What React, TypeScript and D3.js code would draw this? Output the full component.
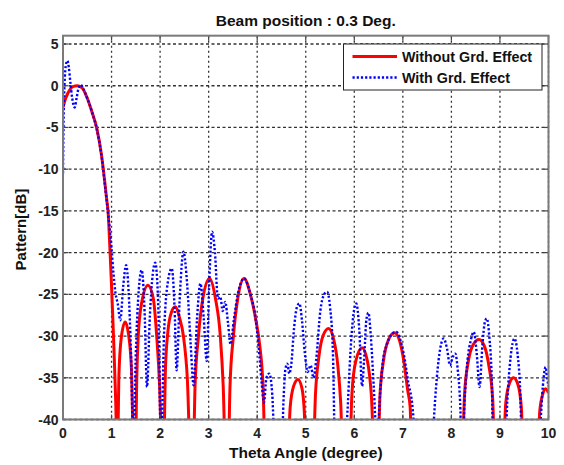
import React from "react";
import * as d3 from "d3";

const xTicks = [0, 1, 2, 3, 4, 5, 6, 7, 8, 9, 10];
const yTicks = [-40, -35, -30, -25, -20, -15, -10, -5, 0, 5];

const redX = [
  0, 0.05, 0.1, 0.15, 0.2, 0.3, 0.4, 0.5, 0.6, 0.7, 0.8, 0.85, 0.9, 0.93, 0.97, 1.0, 1.02, 1.04, 1.07, 1.1, 1.115,
  1.125, 1.15, 1.2, 1.28, 1.35, 1.41, 1.46,
  1.49, 1.52, 1.55, 1.62, 1.75, 1.86, 1.93, 1.99, 2.04,
  2.07, 2.11, 2.16, 2.23, 2.31, 2.4, 2.48, 2.56, 2.63,
  2.68, 2.72, 2.79, 2.88, 3.02, 3.14, 3.24, 3.3, 3.35,
  3.4, 3.44, 3.51, 3.6, 3.73, 3.86, 3.97, 4.05, 4.12, 4.17,
  4.62, 4.68, 4.75, 4.84, 4.92, 4.97, 5.01,
  5.15, 5.2, 5.27, 5.36, 5.47, 5.58, 5.66, 5.72, 5.77,
  5.9, 5.95, 6.03, 6.16, 6.27, 6.35, 6.42,
  6.48, 6.53, 6.6, 6.7, 6.83, 6.93, 7.02, 7.1, 7.15, 7.19,
  8.22, 8.27, 8.35, 8.45, 8.57, 8.68, 8.77, 8.85, 8.9,
  9.06, 9.12, 9.2, 9.28, 9.37, 9.44, 9.49,
  9.77, 9.82, 9.88, 9.94, 10,
];
const redY = [
  -2.6, -1.6, -0.9, -0.4, -0.1, 0, -0.3, -1.5, -3.2, -5.2, -8.6, -11, -13.6, -15.2, -20, -24, -27, -30, -35, -42, -50,
  -45, -35, -30.2, -28.3, -29.8, -34, -45,
  -45, -35, -30, -26, -23.9, -25.5, -30, -36, -45,
  -45, -34, -29.5, -27.2, -26.5, -27.8, -30, -35, -45,
  -45, -36, -30, -25.5, -23.1, -25.5, -30, -36, -45,
  -45, -36, -30, -25.5, -23.1, -25, -28, -31, -36, -45,
  -45, -38.5, -36, -35.2, -36.2, -39, -45,
  -45, -37, -32.5, -29.9, -29.1, -30.5, -33.5, -38, -45,
  -45, -37, -33, -31.4, -33, -37, -45,
  -45, -37, -33, -30.5, -29.6, -30.5, -33, -36.5, -38.5, -45,
  -45, -37, -33, -31, -30.4, -31.2, -33.5, -37.5, -45,
  -45, -38, -35.6, -35, -35.8, -38.5, -45,
  -45, -39, -37, -36.3, -36.8,
];

const blueX = [
  0, 0.01, 0.03, 0.06, 0.09, 0.12, 0.15, 0.19, 0.24, 0.28, 0.32, 0.37, 0.42, 0.5, 0.6, 0.7, 0.8, 0.85, 0.9, 0.95,
  1.0, 1.04, 1.08, 1.13, 1.18, 1.24, 1.3, 1.35, 1.4, 1.45, 1.5, 1.56, 1.62, 1.68, 1.73, 1.79, 1.85, 1.9, 1.96,
  2.02, 2.08, 2.16, 2.24, 2.3, 2.34, 2.4, 2.48, 2.56, 2.63, 2.69, 2.76, 2.83, 2.9, 2.96,
  3.01, 3.07, 3.13, 3.19, 3.24, 3.29, 3.34, 3.4, 3.45, 3.52, 3.6, 3.73, 3.86, 3.97,
  4.03, 4.09, 4.14, 4.19, 4.25, 4.31, 4.36, 4.5, 4.54, 4.58, 4.62, 4.66, 4.7, 4.76, 4.82, 4.87, 4.92, 4.98,
  5.04, 5.1, 5.16, 5.22, 5.3, 5.38, 5.44, 5.5, 5.56, 5.61, 5.78, 5.85, 5.92, 5.98,
  6.04, 6.1, 6.16, 6.2, 6.25, 6.29, 6.34, 6.4, 6.47, 6.53, 6.59, 6.67, 6.77, 6.87, 6.95,
  7.03, 7.11, 7.19, 7.25, 7.3, 7.6, 7.64, 7.7, 7.77, 7.84, 7.91, 7.97,
  8.03, 8.08, 8.13, 8.18, 8.22, 8.27, 8.33, 8.4, 8.46, 8.52, 8.58, 8.64, 8.69, 8.73, 8.78, 8.83, 8.87,
  9.1, 9.15, 9.22, 9.3, 9.36, 9.42, 9.46, 9.8, 9.84, 9.9, 9.94, 9.97, 10,
];
const blueY = [
  -10.5, -5, 0, 2.5, 3.0, 2.2, 0.5, -1.5, -2.6, -1.5, -0.3, 0.1, -0.4, -1.5, -3.2, -5.3, -8.7, -11.2, -13.8, -16.5,
  -19.5, -22.5, -24.8, -26.2, -28.1, -24, -21.5, -24.5, -32, -43, -32, -24.5, -22.1, -27, -36.1, -27.5, -22.5, -21.2, -26,
  -43, -30, -23.5, -21.9, -27, -34.1, -26, -19.9, -24, -31, -35.9, -28, -23.7, -28, -33,
  -24, -17.5, -20, -25.5, -25.3, -27, -25.9, -28.5, -31, -28, -25, -23.1, -25, -28,
  -31.3, -35.5, -38, -35, -34.5, -37, -43, -45, -38, -34, -33.3, -34.5, -33.5, -29, -26.5, -26.1, -28, -32,
  -34.3, -33.5, -35, -32.5, -27, -25, -24.7, -26.5, -32, -45, -45, -40, -32, -27.5,
  -26.1, -29, -36, -33, -28, -27.2, -30, -36, -43, -37, -33, -31, -29.8, -29.5, -30.5,
  -32.5, -35.5, -38, -42, -45, -45, -40, -35, -31.5, -30.3, -31.5, -33.5,
  -32.5, -32.1, -34, -38, -45, -38, -33, -30.5, -29.5, -32, -36.1, -31, -28.3, -27.9, -30, -35, -45,
  -45, -38, -32.5, -30.3, -32, -37, -45, -45, -40, -35, -33.7, -35, -36,
];

const seriesNames = ["Without Grd. Effect", "With Grd. Effect"];
const titleText = "Beam position : 0.3 Deg.";
const xLabel = "Theta Angle (degree)";
const yLabel = "Pattern[dB]";

const W = 564;
const H = 465;
const L = 63;
const R = 548.5;
const yTopVal = 6;
const B = 419.5;
const T = B - 46 * 8.344;

export default function App() {
  const x = d3.scaleLinear().domain([0, 10]).range([L, R]);
  const y = d3.scaleLinear().domain([-40, yTopVal]).range([B, T]);

  const lg = d3.line().curve(d3.curveMonotoneX);
  const redPath = lg(redX.map((v, i) => [x(v), y(redY[i])] as [number, number])) || "";
  const bluePath = lg(blueX.map((v, i) => [x(v), y(blueY[i])] as [number, number])) || "";

  const font = "'Liberation Sans', Arial, sans-serif";
  const tickLen = 5;

  return (
    <svg
      width={W}
      height={H}
      style={{ position: "absolute", left: 0, top: 0, background: "#fff" }}
      fontFamily={font}
    >
      <defs>
        <clipPath id="plotclip">
          <rect x={L} y={T} width={R - L} height={B - T} />
        </clipPath>
      </defs>
      <rect x={0} y={0} width={W} height={H} fill="#fff" />
      {yTicks.map((t) => (
        <line key={"gy" + t} x1={L} x2={R} y1={y(t)} y2={y(t)} stroke="#333" strokeWidth={1.3} strokeDasharray="3,2.5" />
      ))}
      {xTicks.map((t) => (
        <line key={"gx" + t} x1={x(t)} x2={x(t)} y1={T} y2={B} stroke="#333" strokeWidth={1.3} strokeDasharray="2,3" />
      ))}
      <g clipPath="url(#plotclip)">
        <path d={redPath} fill="none" stroke="#ff0000" strokeWidth={3} strokeLinejoin="round" />
        <path d={bluePath} fill="none" stroke="#0000ff" strokeWidth={2.4} strokeDasharray="2.2,2" />
      </g>
      {xTicks.map((t) => (
        <g key={"tx" + t}>
          <line x1={x(t)} x2={x(t)} y1={B} y2={B - tickLen} stroke="#444" strokeWidth={1.2} />
          <line x1={x(t)} x2={x(t)} y1={T} y2={T + tickLen} stroke="#444" strokeWidth={1.2} />
        </g>
      ))}
      {yTicks.map((t) => (
        <g key={"ty" + t}>
          <line x1={L} x2={L + tickLen} y1={y(t)} y2={y(t)} stroke="#444" strokeWidth={1.2} />
          <line x1={R} x2={R - tickLen} y1={y(t)} y2={y(t)} stroke="#444" strokeWidth={1.2} />
        </g>
      ))}
      <rect x={L} y={T} width={R - L} height={B - T} fill="none" stroke="#7a7a7a" strokeWidth={2} />
      {xTicks.map((t) => (
        <text key={"lx" + t} x={x(t)} y={438} textAnchor="middle" fontSize={14} fontWeight="bold" fill="#222">
          {t}
        </text>
      ))}
      {yTicks.map((t) => (
        <text key={"ly" + t} x={58.5} y={y(t) + 5} textAnchor="end" fontSize={14} fontWeight="bold" fill="#222">
          {t}
        </text>
      ))}
      <text x={(L + R) / 2} y={26} textAnchor="middle" fontSize={15.5} fontWeight="bold" fill="#111">
        {titleText}
      </text>
      <text x={(L + R) / 2} y={458} textAnchor="middle" fontSize={15.5} fontWeight="bold" fill="#111">
        {xLabel}
      </text>
      <text
        transform={`translate(26, ${(T + B) / 2 + 2}) rotate(-90)`}
        textAnchor="middle"
        fontSize={15}
        fontWeight="bold"
        fill="#111"
      >
        {yLabel}
      </text>
      <g>
        <rect x={343.5} y={44} width={198.5} height={46} fill="#fff" stroke="#222" strokeWidth={1} />
        <line x1={352.5} x2={397} y1={56.5} y2={56.5} stroke="#ff0000" strokeWidth={3} />
        <line x1={352.5} x2={397} y1={77.5} y2={77.5} stroke="#0000ff" strokeWidth={2.4} strokeDasharray="2.2,2" />
        <text x={402} y={62} fontSize={14.3} fontWeight="bold" fill="#111">
          {seriesNames[0]}
        </text>
        <text x={402} y={83} fontSize={14.3} fontWeight="bold" fill="#111">
          {seriesNames[1]}
        </text>
      </g>
    </svg>
  );
}
